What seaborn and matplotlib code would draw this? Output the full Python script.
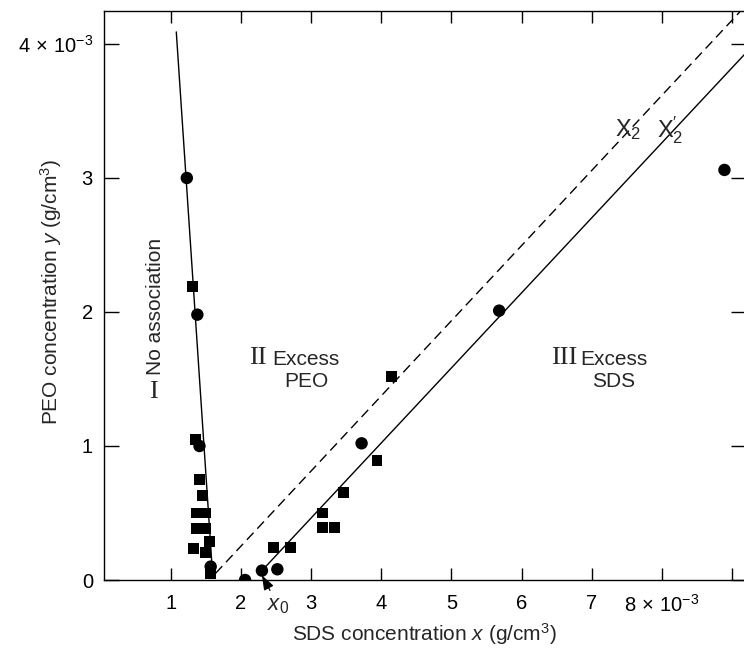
import numpy as np
import pandas as pd
import matplotlib
matplotlib.use("Agg")
import matplotlib.pyplot as plt
import seaborn as sns

sns.set_style("ticks")
plt.rcParams["font.family"] = ["Liberation Sans", "DejaVu Sans"]
plt.rcParams["mathtext.fontset"] = "custom"
plt.rcParams["mathtext.rm"] = "Liberation Sans"
plt.rcParams["mathtext.it"] = "Liberation Sans:italic"
plt.rcParams["mathtext.bf"] = "Liberation Sans:bold"

# SDS (x) and PEO (y) concentrations, in units of 1e-3 g/cm^3
circle_x = [1.23, 1.38, 1.41, 1.57, 2.06, 2.30, 2.52, 3.72, 5.68, 8.89]
circle_y = [3.00, 1.98, 1.00, 0.10, 0.00, 0.07, 0.08, 1.02, 2.01, 3.06]

square_x = [1.31, 1.35, 1.41, 1.45, 1.37, 1.50, 1.37, 1.50, 1.55, 1.32, 1.49, 1.57,
            2.47, 2.71, 3.16, 3.16, 3.33, 3.46, 3.94, 4.14]
square_y = [2.19, 1.05, 0.75, 0.63, 0.50, 0.50, 0.385, 0.385, 0.286, 0.237, 0.204, 0.05,
            0.244, 0.244, 0.50, 0.39, 0.39, 0.65, 0.89, 1.52]

# boundary lines between regions
boundary_I_x = [1.08, 1.60]
boundary_I_y = [4.09, 0.02]
x2_line_x = [1.64, 9.11]
x2_line_y = [0.05, 4.24]
x2p_line_x = [2.30, 9.19]
x2p_line_y = [0.07, 3.93]

x_ticks = [1, 2, 3, 4, 5, 6, 7, 8, 9]
x_ticklabels = ["1", "2", "3", "4", "5", "6", "7", r"$8\,\times\,10^{-3}$", ""]
y_ticks = [0, 1, 2, 3, 4]
y_ticklabels = ["0", "1", "2", "3", r"$4\,\times\,10^{-3}$"]

circles = pd.DataFrame({"SDS": circle_x, "PEO": circle_y})
squares = pd.DataFrame({"SDS": square_x, "PEO": square_y})

fig = plt.figure(figsize=(7.44, 6.49), dpi=100)
ax = fig.add_axes([104 / 744, 1 - 580 / 649, (745.5 - 104) / 744, (580 - 11) / 649])

ax.plot(boundary_I_x, boundary_I_y, color="black", lw=1.0)
ax.plot(x2_line_x, x2_line_y, color="black", lw=1.0, dashes=(7, 4))
ax.plot(x2p_line_x, x2p_line_y, color="black", lw=1.0)

sns.scatterplot(data=squares, x="SDS", y="PEO", marker="s", s=62, color="black",
                edgecolor="none", ax=ax, legend=False, zorder=3)
sns.scatterplot(data=circles, x="SDS", y="PEO", marker="o", s=80, color="black",
                edgecolor="none", ax=ax, legend=False, zorder=3)

ax.set_xlim(0.05, 9.19)
ax.set_ylim(0, 4.246)

ax.set_xticks(x_ticks)
ax.set_xticklabels(x_ticklabels)
ax.set_yticks(y_ticks)
ax.set_yticklabels(y_ticklabels)

ax.tick_params(axis="x", direction="in", length=8.5, width=1.0, pad=10,
               labelsize=14.5, top=True, colors="black")
ax.tick_params(axis="y", direction="in", length=11, width=1.0, pad=8,
               labelsize=14.5, right=True, colors="black")
for side in ["left", "bottom", "top", "right"]:
    ax.spines[side].set_linewidth(1.0)
    ax.spines[side].set_color("black")

ax.set_xlabel(r"SDS concentration $x$ (g/cm$^3$)", fontsize=15)
ax.set_ylabel(r"PEO concentration $y$ (g/cm$^3$)", fontsize=15)
ax.xaxis.set_label_coords(0.5, -0.072)
ax.yaxis.set_label_coords(-0.063, 0.506)

serif = ["Liberation Serif", "DejaVu Serif"]
ax.text(0.78, 2.045, "No association", rotation=90, ha="center", va="center", fontsize=15)
ax.text(0.75, 1.40, "I", family=serif, ha="center", va="center", fontsize=19)

ax.text(2.37, 1.657, "II", family=serif, ha="right", va="center", fontsize=19)
ax.text(2.93, 1.563, "Excess\nPEO", ha="center", va="center", fontsize=15,
        multialignment="center", linespacing=1.15)

ax.text(6.79, 1.657, "III", family=serif, ha="right", va="center", fontsize=19)
ax.text(7.31, 1.563, "Excess\nSDS", ha="center", va="center", fontsize=15,
        multialignment="center", linespacing=1.15)

ax.text(7.52, 3.36, r"X$_2$", ha="center", va="center", fontsize=17)
ax.text(8.12, 3.36, r"X$_2^{\prime}$", ha="center", va="center", fontsize=17)

ax.annotate(r"$x_0$", xy=(2.30, 0.035), xytext=(2.53, -0.19), textcoords="data",
            ha="center", va="center", fontsize=16, annotation_clip=False,
            arrowprops=dict(arrowstyle="-|>,head_length=0.55,head_width=0.2",
                            color="black", lw=0.9, shrinkA=1, shrinkB=0))

fig.savefig("out.png", dpi=100)
